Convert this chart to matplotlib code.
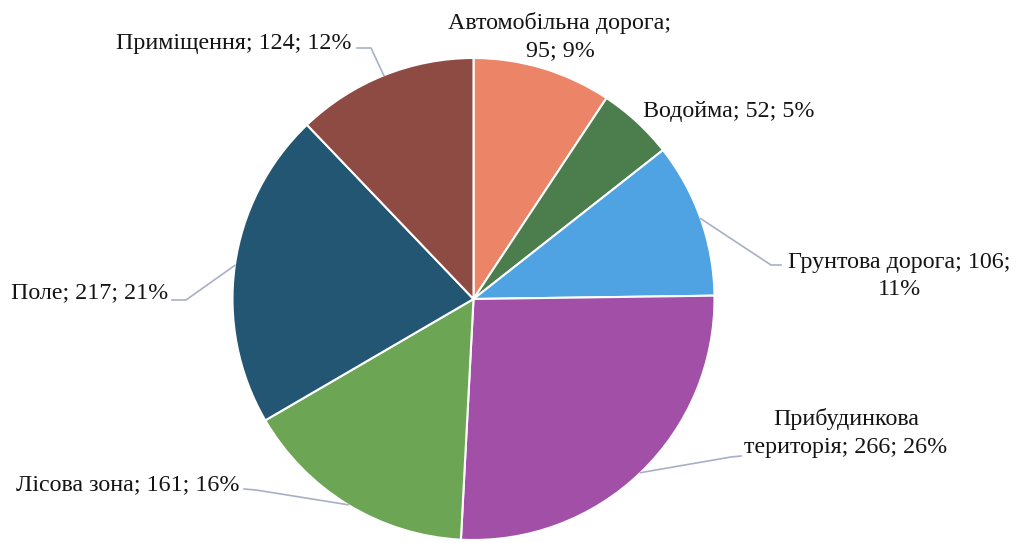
import matplotlib
matplotlib.use("Agg")
import matplotlib.pyplot as plt
import numpy as np

"""
Data
"""

labels = ["Автомобільна дорога", "Водойма", "Грунтова дорога",
          "Прибудинкова територія", "Лісова зона", "Поле", "Приміщення"]
values = [95, 52, 106, 266, 161, 217, 124]
percents = [9, 5, 11, 26, 16, 21, 12]
colors = ["#EC8468", "#4B7D4D", "#4FA3E2", "#A24FA8", "#6CA554", "#225672", "#8D4B43"]

# label text as it is broken in the original
label_texts = ["Автомобільна дорога;\n95; 9%",
               "Водойма; 52; 5%",
               "Грунтова дорога; 106;\n11%",
               "Прибудинкова\nтериторія; 266; 26%",
               "Лісова зона; 161; 16%",
               "Поле; 217; 21%",
               "Приміщення; 124; 12%"]

"""
Layout (pixel space, y up)
"""

W, H = 1016, 543
cx, cy, r = 473.5, 543 - 299, 241

# text centre, and leader elbow (None -> no leader)
text_pos = [(560, 543 - 37), (729, 543 - 112), (899, 543 - 276),
            (846, 543 - 433), (128, 543 - 485), (90, 543 - 293), (234, 543 - 44)]
elbows = [None, None,
          [(781, 543 - 265), (771, 543 - 265)],
          [(741, 543 - 456), (731, 543 - 457)],
          [(244, 543 - 489), (256, 543 - 490)],
          [(172, 543 - 300), (186, 543 - 300)],
          [(357, 543 - 48), (371, 543 - 48)]]

fig = plt.figure(figsize=(W / 100, H / 100), dpi=100)
ax = fig.add_axes([0, 0, 1, 1])

wedges, _ = ax.pie(values, colors=colors, startangle=90, counterclock=False,
                   center=(cx, cy), radius=r, frame=True,
                   wedgeprops=dict(edgecolor="white", linewidth=1.5))
ax.set_xlim(0, W)
ax.set_ylim(0, H)
ax.set_aspect("equal")
ax.axis("off")

for w, txt, pos, elb in zip(wedges, label_texts, text_pos, elbows):
    ax.text(pos[0], pos[1], txt, ha="center", va="center", fontsize=17.3,
            family="Liberation Serif", color="#141414", linespacing=1.38)
    if elb is None:
        continue
    mid = np.deg2rad((w.theta1 + w.theta2) / 2)
    edge = (cx + r * np.cos(mid), cy + r * np.sin(mid))
    pts = elb + [edge]
    ax.plot([p[0] for p in pts], [p[1] for p in pts], color="#A8B0C8", lw=1.2)

fig.savefig("out.png", dpi=100)
